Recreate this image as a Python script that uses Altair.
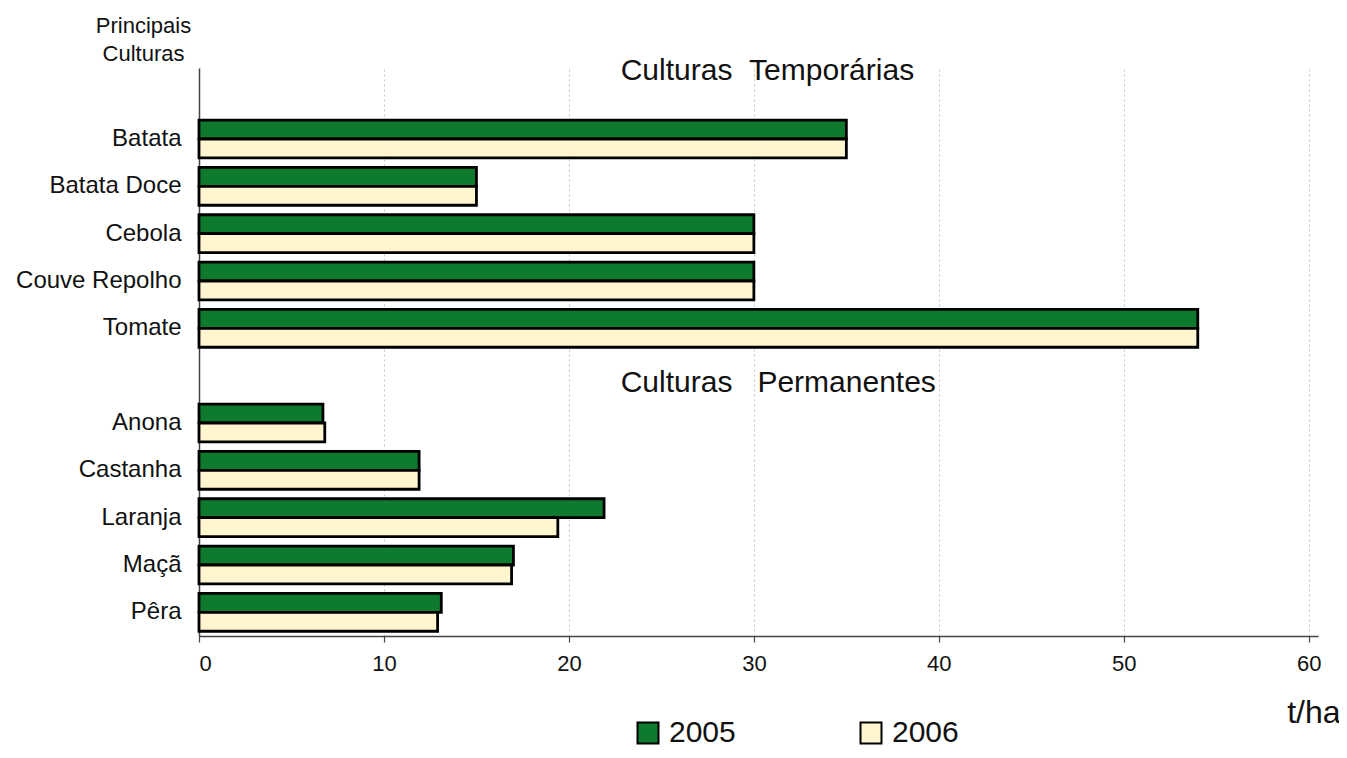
import altair as alt
import pandas as pd

# ---- data ----
slots = ["hdr_temp", "Batata", "Batata Doce", "Cebola", "Couve Repolho", "Tomate",
         "hdr_perm", "Anona", "Castanha", "Laranja", "Maçã", "Pêra"]
crops = ["Batata", "Batata Doce", "Cebola", "Couve Repolho", "Tomate",
         "Anona", "Castanha", "Laranja", "Maçã", "Pêra"]
v2005 = [35, 15, 30, 30, 54, 6.7, 11.9, 21.9, 17.0, 13.1]
v2006 = [35, 15, 30, 30, 54, 6.8, 11.9, 19.4, 16.9, 12.9]
years = ["2005", "2006"]
colors = ["#0e7a2d", "#fff6cf"]
x_ticks = [0, 10, 20, 30, 40, 50, 60]
header_texts = ["Culturas\u00a0\u00a0Temporárias", "Culturas\u00a0\u00a0\u00a0Permanentes"]
header_slots = ["hdr_temp", "hdr_perm"]
header_x = [22.8, 22.8]

FONT = "Liberation Sans"

df = pd.DataFrame({
    "crop": crops * 2,
    "year": [years[0]] * len(crops) + [years[1]] * len(crops),
    "value": v2005 + v2006,
})
hdr_temp = pd.DataFrame({"crop": header_slots[:1], "label": header_texts[:1], "hx": header_x[:1]})
hdr_perm = pd.DataFrame({"crop": header_slots[1:], "label": header_texts[1:], "hx": header_x[1:]})

x_scale = alt.Scale(domain=[0, 60.5], nice=False, zero=True)
y_scale = alt.Scale(domain=slots, paddingInner=0.2, paddingOuter=0.1)

bars = alt.Chart(df).mark_bar(stroke="black", strokeWidth=2.8).encode(
    x=alt.X("value:Q", scale=x_scale,
            axis=alt.Axis(values=x_ticks, grid=True, gridDash=[2, 3], gridColor="#c4c4c4",
                          gridWidth=1, domainColor="#444", domainWidth=1.5,
                          tickColor="#444", tickSize=6, tickWidth=1.2,
                          labelFontSize=22, labelPadding=11, labelColor="#111",
                          title="t/ha", titleFontSize=32, titleFontWeight="normal",
                          titleColor="#111", titleAlign="right", titleBaseline="alphabetic",
                          titleX=1141, titleY=86)),
    y=alt.Y("crop:N", scale=y_scale,
            axis=alt.Axis(domain=True, domainColor="#444", domainWidth=1.5, ticks=False,
                          grid=False, labelFontSize=24, labelPadding=18, labelColor="#111",
                          labelExpr="indexof(datum.label, 'hdr_') == 0 ? '' : datum.label",
                          title=["Principais", "Culturas"], titleAngle=0, titleAlign="center",
                          titleBaseline="alphabetic", titleX=-56, titleY=-36,
                          titleFontSize=22, titleFontWeight="normal", titleColor="#111",
                          titleLineHeight=28)),
    yOffset=alt.YOffset("year:N", scale=alt.Scale(domain=years, paddingInner=0, paddingOuter=0)),
    fill=alt.Fill("year:N", scale=alt.Scale(domain=years, range=colors),
                  legend=alt.Legend(orient="none", legendX=434, legendY=650, direction="horizontal",
                                    title=None, symbolType="square", symbolSize=441,
                                    symbolStrokeColor="black", symbolStrokeWidth=2,
                                    symbolOpacity=1, labelFontSize=30, labelColor="#111",
                                    labelOffset=6, columnPadding=120)),
)

t1 = alt.Chart(hdr_temp).mark_text(align="left", baseline="alphabetic", fontSize=30,
                                    color="#111", dy=-12).encode(
    x=alt.X("hx:Q", scale=x_scale), y=alt.Y("crop:N", scale=y_scale), text="label:N")
t2 = alt.Chart(hdr_perm).mark_text(align="left", baseline="alphabetic", fontSize=30,
                                    color="#111", dy=16).encode(
    x=alt.X("hx:Q", scale=x_scale), y=alt.Y("crop:N", scale=y_scale), text="label:N")

chart = alt.layer(bars, t1, t2).properties(
    width=1119, height=568,
    autosize=alt.AutoSizeParams(type="none"),
    padding={"left": 191, "top": 60, "right": 21, "bottom": 114},
    background="white",
).configure(font=FONT).configure_view(stroke=None)

chart.save("out.html", embed_options={"renderer": "svg", "actions": False})
